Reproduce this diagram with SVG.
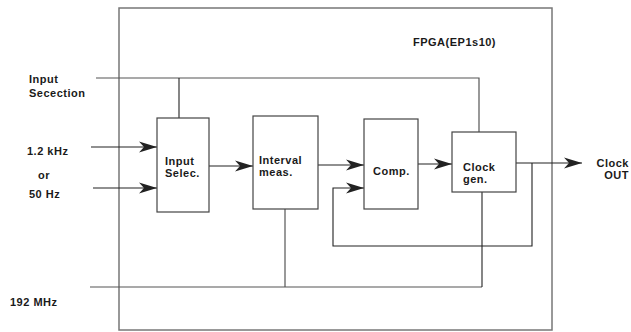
<svg xmlns="http://www.w3.org/2000/svg" width="631" height="332" viewBox="0 0 631 332">
<defs>
<marker id="ah" markerUnits="userSpaceOnUse" markerWidth="20" markerHeight="12" refX="18" refY="6" orient="auto">
<path d="M0,0.5 L18,6 L0,11.5 L5,6 Z" fill="#222"/>
</marker>
<style>
.t{font-family:"Liberation Sans",Arial,sans-serif;font-size:11px;font-weight:bold;fill:#1a1a1a;letter-spacing:0.5px}
.e{text-anchor:end}
.box{fill:#fff;stroke:#444;stroke-width:1.2}
.frame{fill:none;stroke:#777;stroke-width:1.5}
.ln{fill:none;stroke:#555;stroke-width:1.2}
.dk{fill:none;stroke:#222;stroke-width:1.1}
.ar{fill:none;stroke:#222;stroke-width:1.1;marker-end:url(#ah)}
</style>
</defs>
<g id="fpga">
<rect class="frame" x="119" y="8" width="433" height="322"/>
<text class="t" x="413" y="46">FPGA(EP1s10)</text>
</g>
<g id="connectors">
<path class="ln" d="M96,78 H479 V132"/>
<path class="dk" d="M179,78 V118"/>
<path class="ar" d="M91,147 H157"/>
<path class="ar" d="M93,188 H157"/>
<path class="ar" d="M209,166 H253"/>
<path class="ar" d="M318,165 H364"/>
<path class="ar" d="M418,164 H452"/>
<path class="ar" d="M516,163 H582"/>
<path class="ar" d="M532,163 V246 H333 V188 H364"/>
<path class="ln" d="M90,287 H482"/>
<path class="dk" d="M482,192 V287"/>
<path class="ln" d="M285,209 V287"/>
</g>
<g id="inputsel">
<rect class="box" x="157" y="118" width="52" height="94"/>
<text class="t" x="165" y="165">Input</text>
<text class="t" x="165" y="177">Selec.</text>
</g>
<g id="interval">
<rect class="box" x="253" y="116" width="65" height="93"/>
<text class="t" x="259" y="164">Interval</text>
<text class="t" x="259" y="176">meas.</text>
</g>
<g id="comp">
<rect class="box" x="364" y="119" width="54" height="90"/>
<text class="t" x="373" y="175">Comp.</text>
</g>
<g id="clockgen">
<rect class="box" x="452" y="132" width="64" height="60"/>
<text class="t" x="463" y="171">Clock</text>
<text class="t" x="463" y="183">gen.</text>
</g>
<g id="labels">
<text class="t" x="29" y="83">Input</text>
<text class="t" x="29" y="97">Secection</text>
<text class="t" x="27" y="155">1.2 kHz</text>
<text class="t" x="38" y="179">or</text>
<text class="t" x="29" y="198">50 Hz</text>
<text class="t" x="10" y="306">192 MHz</text>
<text class="t e" x="629" y="167">Clock</text>
<text class="t e" x="629" y="179">OUT</text>
</g>
</svg>
